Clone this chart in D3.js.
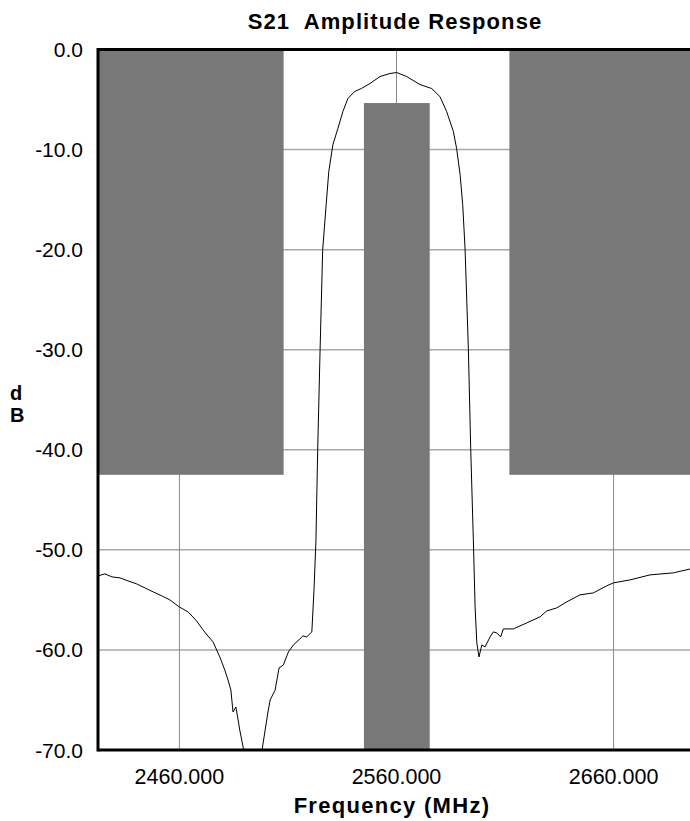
<!DOCTYPE html>
<html>
<head>
<meta charset="utf-8">
<script src="https://cdn.jsdelivr.net/npm/d3@7"></script>
<style>
  html, body { margin: 0; padding: 0; background: #fff; }
  svg { display: block; font-family: "Liberation Sans", Arial, Helvetica, sans-serif; }
</style>
</head>
<body>
<svg id="chart" width="690" height="821"></svg>
<script>
// ---- data ----
const title = "S21  Amplitude Response";
const xLabel = "Frequency (MHz)";
const yLabelLetters = ["d", "B"];
const xDomain = [2422.5, 2697.5];
const yDomain = [-70, 0];
const xTicks = [2460, 2560, 2660];
const yTicks = [0, -10, -20, -30, -40, -50, -60, -70];

// gray mask regions: [f1, f2, dBtop, dBbottom]
const masks = [
  [2422.5, 2508, 0, -42.5],
  [2612, 2697.5, 0, -42.5],
  [2545, 2575.3, -5.35, -70]
];

// S21 trace
const freq = [2422.5, 2425.7, 2428.9, 2432.6, 2436.3, 2440.3, 2444.1, 2447.9, 2451.9, 2455.6,
  2459.9, 2464.0, 2467.9, 2470.9, 2473.1, 2475.5, 2478.6, 2480.9, 2482.4, 2483.7,
  2484.7, 2486.0, 2486.9, 2487.8, 2489.7, 2491.0, 2494.0, 2497.0, 2498.0, 2499.5,
  2500.8, 2501.8, 2504.1, 2505.9, 2507.9, 2510.2, 2512.5, 2515.5, 2516.9, 2518.6,
  2521.0, 2522.0, 2522.9, 2523.7, 2524.8, 2526.0, 2527.6, 2528.8, 2530.7, 2533.0,
  2535.3, 2537.6, 2540.7, 2543.8, 2547.8, 2552.4, 2557.0, 2560.1, 2564.7, 2570.8,
  2576.2, 2580.0, 2583.1, 2586.2, 2587.7, 2589.3, 2590.5, 2591.6, 2593.1, 2594.2,
  2595.4, 2596.2, 2597.0, 2598.0, 2599.3, 2600.8, 2603.1, 2604.6, 2606.2, 2608.0,
  2609.2, 2613.8, 2620.0, 2626.1, 2629.2, 2633.8, 2638.4, 2644.5, 2650.7, 2656.8,
  2659.9, 2667.6, 2676.8, 2687.5, 2697.5];
const s21 = [-52.6, -52.4, -52.7, -52.8, -53.1, -53.4, -53.8, -54.2, -54.6, -55.0,
  -55.7, -56.2, -57.1, -58.0, -58.6, -59.2, -60.7, -62.0, -63.0, -64.0,
  -66.2, -65.7, -66.8, -68.0, -70.1, -71.2, -73.0, -71.2, -70.1, -68.0,
  -66.2, -65.0, -64.0, -61.8, -61.5, -60.2, -59.5, -58.9, -58.6, -58.7,
  -58.2, -54.0, -49.0, -40.0, -30.0, -20.0, -15.5, -12.2, -9.5, -7.9,
  -6.2, -4.9, -4.2, -3.9, -3.4, -2.7, -2.4, -2.3, -2.7, -3.5,
  -3.9, -4.7, -6.2, -8.2, -9.9, -12.5, -15.5, -20.0, -29.9, -40.0,
  -49.0, -55.7, -59.3, -60.7, -59.5, -59.7, -58.7, -58.2, -58.3, -58.7,
  -57.9, -57.9, -57.3, -56.7, -56.1, -55.8, -55.2, -54.5, -54.3, -53.6,
  -53.3, -53.0, -52.5, -52.3, -51.8];

// ---- layout ----
const L = 98, R = 695, T = 49.5, B = 750;
const svg = d3.select("#chart");
const x = d3.scaleLinear().domain(xDomain).range([L, R]);
const y = d3.scaleLinear().domain(yDomain).range([B, T]);

svg.append("defs").append("clipPath").attr("id", "plotClip")
  .append("rect").attr("x", L).attr("y", T).attr("width", R - L).attr("height", B - T);

// grid
const grid = svg.append("g");
grid.selectAll("line.h").data(yTicks.filter(d => d !== 0 && d !== -70)).join("line")
  .attr("x1", L).attr("x2", R).attr("y1", d => y(d)).attr("y2", d => y(d))
  .attr("stroke", "#a8a8a8").attr("stroke-width", 1.5);
grid.selectAll("line.v").data(xTicks).join("line")
  .attr("y1", T).attr("y2", B).attr("x1", d => x(d)).attr("x2", d => x(d))
  .attr("stroke", "#8a8a8a").attr("stroke-width", 1);

// masks
svg.append("g").attr("clip-path", "url(#plotClip)")
  .selectAll("rect").data(masks).join("rect")
  .attr("x", d => x(d[0])).attr("width", d => x(d[1]) - x(d[0]))
  .attr("y", d => y(d[2])).attr("height", d => y(d[3]) - y(d[2]))
  .attr("fill", "#787878");

// trace
const pts = freq.map((f, i) => [f, s21[i]]);
svg.append("path").attr("clip-path", "url(#plotClip)")
  .datum(pts)
  .attr("d", d3.line().x(d => x(d[0])).y(d => y(d[1])))
  .attr("fill", "none").attr("stroke", "#000").attr("stroke-width", 1)
  .attr("stroke-linejoin", "round");

// frame
const frame = svg.append("g").attr("stroke", "#000").attr("stroke-width", 3);
frame.append("line").attr("x1", L).attr("x2", L).attr("y1", T - 1.5).attr("y2", B + 1.5);
frame.append("line").attr("x1", L).attr("x2", R).attr("y1", T).attr("y2", T);
frame.append("line").attr("x1", L).attr("x2", R).attr("y1", B).attr("y2", B);

// y tick labels
svg.append("g").selectAll("text").data(yTicks).join("text")
  .attr("x", 83).attr("y", d => y(d) + 7.5)
  .attr("text-anchor", "end").attr("font-size", 21).attr("fill", "#000")
  .text(d => d3.format(".1f")(d).replace("−", "-"));

// x tick labels
svg.append("g").selectAll("text").data(xTicks).join("text")
  .attr("x", d => x(d)).attr("y", 784)
  .attr("text-anchor", "middle").attr("font-size", 21.5).attr("fill", "#000")
  .text(d => d3.format(".3f")(d));

// titles
svg.append("text").attr("x", 395).attr("y", 29).attr("text-anchor", "middle")
  .style("white-space", "pre").attr("letter-spacing", 1.1)
  .attr("font-size", 22).attr("font-weight", "bold").text(title);
svg.append("text").attr("x", 392).attr("y", 813).attr("text-anchor", "middle")
  .attr("letter-spacing", 1.3)
  .attr("font-size", 22).attr("font-weight", "bold").text(xLabel);
svg.append("g").selectAll("text").data(yLabelLetters).join("text")
  .attr("x", 10).attr("y", (d, i) => 400 + i * 22)
  .attr("font-size", 20).attr("font-weight", "bold").text(d => d);
</script>
</body>
</html>
